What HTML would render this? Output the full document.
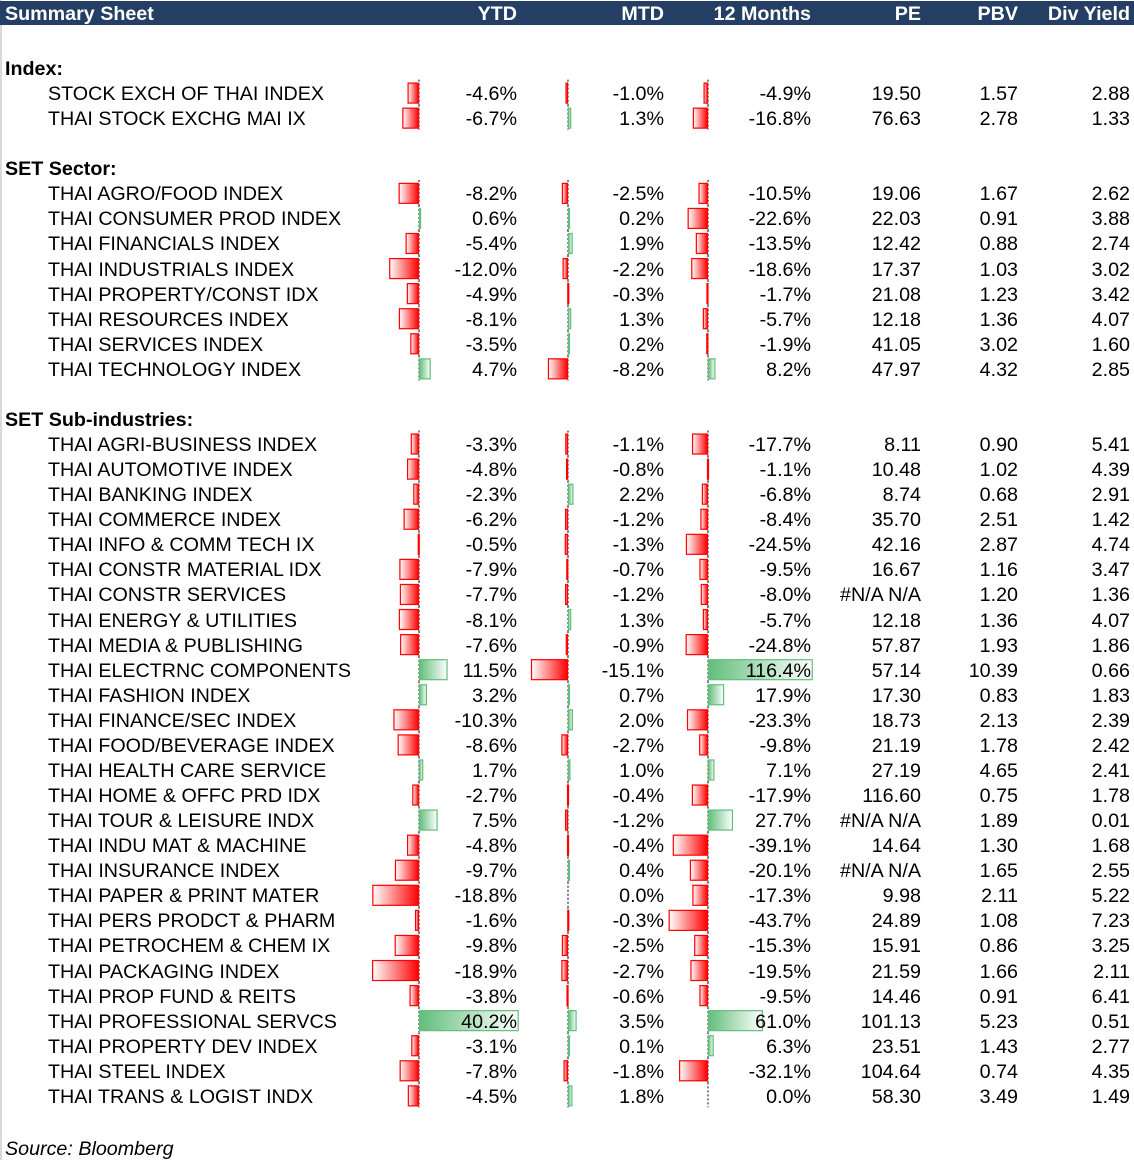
<!DOCTYPE html>
<html><head><meta charset="utf-8"><style>
body{margin:0;width:1134px;height:1160px;background:#fff;font-family:"Liberation Sans",Arial,sans-serif;position:relative;overflow:hidden}
#hdr{position:absolute;left:0;top:1px;width:1134px;height:24px;background:#243F63;color:#fff;font-weight:bold;font-size:19.7px}
.t{position:absolute;font-size:19.7px;line-height:22px;white-space:nowrap;color:#000}
.r{text-align:right}
#lb{position:absolute;left:0;top:0;width:2px;height:1160px;background:#d9d9d9}
</style></head><body>
<div id="lb"></div>
<div id="hdr">
<span class="t" style="left:5px;top:2px;color:#fff">Summary Sheet</span>
<span class="t r" style="right:617px;top:2px;color:#fff">YTD</span>
<span class="t r" style="right:470px;top:2px;color:#fff">MTD</span>
<span class="t r" style="right:323px;top:2px;color:#fff">12 Months</span>
<span class="t r" style="right:213px;top:2px;color:#fff">PE</span>
<span class="t r" style="right:116px;top:2px;color:#fff">PBV</span>
<span class="t r" style="right:4px;top:2px;color:#fff">Div Yield</span>
</div>
<svg id="bars" width="1134" height="1160" style="position:absolute;left:0;top:0">
<defs>
<linearGradient id="gr" x1="0" x2="1"><stop offset="0" stop-color="#fff"/><stop offset="1" stop-color="#FF0000"/></linearGradient>
<linearGradient id="gg" x1="0" x2="1"><stop offset="0" stop-color="#63BE7B"/><stop offset="1" stop-color="#fff"/></linearGradient>
</defs></svg>
<div id="rows"></div>
<span class="t" style="left:5px;top:1138px;font-style:italic">Source: Bloomberg</span>
<script>
const rowSlots = ["H:Index:",0,1,"B","H:SET Sector:",2,3,4,5,6,7,8,9,"B","H:SET Sub-industries:",10,11,12,13,14,15,16,17,18,19,20,21,22,23,24,25,26,27,28,29,30,31,32,33,34,35,36];
const names = ["STOCK EXCH OF THAI INDEX","THAI STOCK EXCHG MAI IX","THAI AGRO/FOOD INDEX","THAI CONSUMER PROD INDEX","THAI FINANCIALS INDEX","THAI INDUSTRIALS INDEX","THAI PROPERTY/CONST IDX","THAI RESOURCES INDEX","THAI SERVICES INDEX","THAI TECHNOLOGY INDEX","THAI AGRI-BUSINESS INDEX","THAI AUTOMOTIVE INDEX","THAI BANKING INDEX","THAI COMMERCE INDEX","THAI INFO & COMM TECH IX","THAI CONSTR MATERIAL IDX","THAI CONSTR SERVICES","THAI ENERGY & UTILITIES","THAI MEDIA & PUBLISHING","THAI ELECTRNC COMPONENTS","THAI FASHION INDEX","THAI FINANCE/SEC INDEX","THAI FOOD/BEVERAGE INDEX","THAI HEALTH CARE SERVICE","THAI HOME & OFFC PRD IDX","THAI TOUR & LEISURE INDX","THAI INDU MAT & MACHINE","THAI INSURANCE INDEX","THAI PAPER & PRINT MATER","THAI PERS PRODCT & PHARM","THAI PETROCHEM & CHEM IX","THAI PACKAGING INDEX","THAI PROP FUND & REITS","THAI PROFESSIONAL SERVCS","THAI PROPERTY DEV INDEX","THAI STEEL INDEX","THAI TRANS & LOGIST INDX"];
const ytd = [-4.6,-6.7,-8.2,0.6,-5.4,-12.0,-4.9,-8.1,-3.5,4.7,-3.3,-4.8,-2.3,-6.2,-0.5,-7.9,-7.7,-8.1,-7.6,11.5,3.2,-10.3,-8.6,1.7,-2.7,7.5,-4.8,-9.7,-18.8,-1.6,-9.8,-18.9,-3.8,40.2,-3.1,-7.8,-4.5];
const mtd = [-1.0,1.3,-2.5,0.2,1.9,-2.2,-0.3,1.3,0.2,-8.2,-1.1,-0.8,2.2,-1.2,-1.3,-0.7,-1.2,1.3,-0.9,-15.1,0.7,2.0,-2.7,1.0,-0.4,-1.2,-0.4,0.4,0.0,-0.3,-2.5,-2.7,-0.6,3.5,0.1,-1.8,1.8];
const m12 = [-4.9,-16.8,-10.5,-22.6,-13.5,-18.6,-1.7,-5.7,-1.9,8.2,-17.7,-1.1,-6.8,-8.4,-24.5,-9.5,-8.0,-5.7,-24.8,116.4,17.9,-23.3,-9.8,7.1,-17.9,27.7,-39.1,-20.1,-17.3,-43.7,-15.3,-19.5,-9.5,61.0,6.3,-32.1,0.0];
const pe = ["19.50","76.63","19.06","22.03","12.42","17.37","21.08","12.18","41.05","47.97","8.11","10.48","8.74","35.70","42.16","16.67","#N/A N/A","12.18","57.87","57.14","17.30","18.73","21.19","27.19","116.60","#N/A N/A","14.64","#N/A N/A","9.98","24.89","15.91","21.59","14.46","101.13","23.51","104.64","58.30"];
const pbv = [1.57,2.78,1.67,0.91,0.88,1.03,1.23,1.36,3.02,4.32,0.90,1.02,0.68,2.51,2.87,1.16,1.20,1.36,1.93,10.39,0.83,2.13,1.78,4.65,0.75,1.89,1.30,1.65,2.11,1.08,0.86,1.66,0.91,5.23,1.43,0.74,3.49];
const dy = [2.88,1.33,2.62,3.88,2.74,3.02,3.42,4.07,1.60,2.85,5.41,4.39,2.91,1.42,4.74,3.47,1.36,4.07,1.86,0.66,1.83,2.39,2.42,2.41,1.78,0.01,1.68,2.55,5.22,7.23,3.25,2.11,6.41,0.51,2.77,4.35,1.49];

const svg=document.getElementById('bars'), rows=document.getElementById('rows');
const NS='http://www.w3.org/2000/svg';
const cols=[{arr:ytd,ax:419,k:2.48,vr:617,nm:'ytd'},{arr:mtd,ax:568,k:2.45,vr:470,nm:'mtd'},{arr:m12,ax:708,k:0.9,vr:323,nm:'12m'}];
function rowY(i){return 67+25.07*i;}
function txt(s,left,right,y,bold,name){
  const e=document.createElement('span');e.className='t';
  if(left!=null)e.style.left=left+'px';else{e.style.right=right+'px';e.style.textAlign='right';}
  e.style.top=(y-9)+'px';if(bold)e.style.fontWeight='bold';e.textContent=s;
  
  
  rows.appendChild(e);
}
rowSlots.forEach((s,i)=>{
  const y=rowY(i);
  if(typeof s==='string'){ if(s.startsWith('H:')) txt(s.slice(2),5,null,y,true,'section-label'); return; }
  txt(names[s],48,null,y,false,'index-name');
  cols.forEach(c=>{
    const v=c.arr[s];
    const ln=document.createElementNS(NS,'line');
    ln.setAttribute('x1',c.ax);ln.setAttribute('x2',c.ax);ln.setAttribute('y1',y-12.5);ln.setAttribute('y2',y+12.5);
    ln.setAttribute('stroke','#000');ln.setAttribute('stroke-dasharray','2,2');ln.setAttribute('stroke-width','1');
    
    
    svg.appendChild(ln);
    const w=Math.abs(v)*c.k;
    if(w>0){
      const r=document.createElementNS(NS,'rect');
      const x=v<0?c.ax-w:c.ax;
      r.setAttribute('x',x+0.5);r.setAttribute('y',y-9);r.setAttribute('width',Math.max(w-1,1));r.setAttribute('height',20);
      r.setAttribute('fill',v<0?'url(#gr)':'url(#gg)');r.setAttribute('stroke',v<0?'#FF0000':'#63BE7B');r.setAttribute('stroke-width','1.2');
      
      
      svg.appendChild(r);
    }
    txt(v.toFixed(1)+'%',null,c.vr,y,false,c.nm+'-value');
  });
  txt(pe[s],null,213,y,false,'pe-value');
  txt(pbv[s].toFixed(2),null,116,y,false,'pbv-value');
  txt(dy[s].toFixed(2),null,4,y,false,'div-yield-value');
});
</script>
</body></html>
